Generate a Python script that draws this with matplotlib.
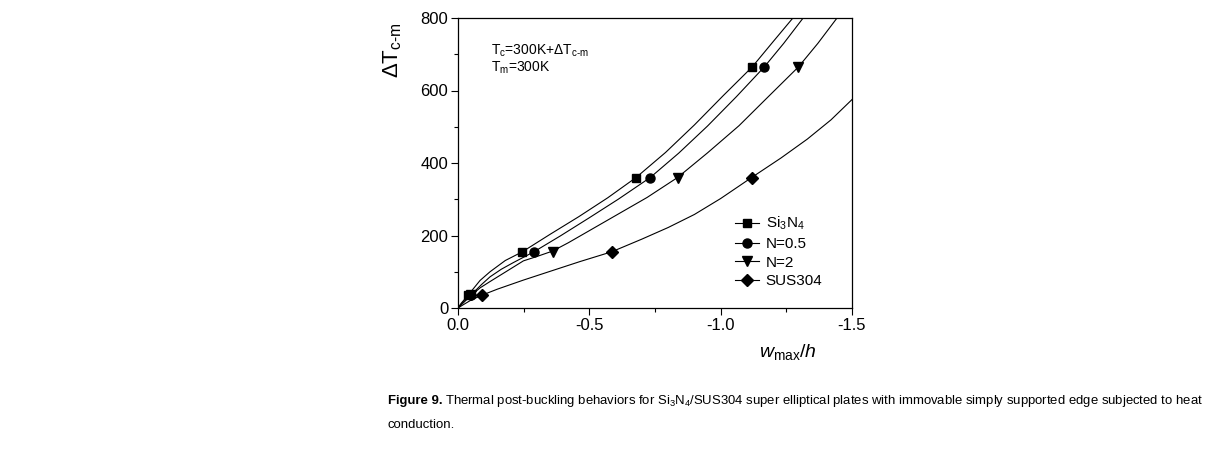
import matplotlib
matplotlib.use("Agg")
import matplotlib.pyplot as plt

plt.rcParams['font.family'] = ['Liberation Sans', 'DejaVu Sans']
plt.rcParams['mathtext.fontset'] = 'custom'
plt.rcParams['mathtext.rm'] = 'Liberation Sans'
plt.rcParams['mathtext.it'] = 'Liberation Sans:italic'
plt.rcParams['mathtext.bf'] = 'Liberation Sans:bold'

# ---- data (w_max/h magnitude, ΔT_c-m) ----
si_curve_w = [0, 0.012, 0.038, 0.084, 0.122, 0.18, 0.245, 0.35, 0.46, 0.57, 0.678, 0.79, 0.9, 1.01, 1.12, 1.2, 1.275]
si_curve_t = [0, 13, 35, 76, 100, 131, 155, 203, 252, 304, 360, 429, 505, 586, 665, 735, 800]
n05_curve_w = [0, 0.015, 0.048, 0.09, 0.122, 0.165, 0.21, 0.289, 0.39, 0.5, 0.61, 0.732, 0.84, 0.95, 1.06, 1.166, 1.24, 1.314]
n05_curve_t = [0, 13, 35, 65, 86, 107, 125, 155, 199, 249, 300, 360, 427, 502, 583, 665, 730, 800]
n2_curve_w = [0, 0.02, 0.05, 0.085, 0.122, 0.18, 0.249, 0.3, 0.36, 0.42, 0.48, 0.6, 0.72, 0.836, 0.95, 1.07, 1.18, 1.296, 1.37, 1.443]
n2_curve_t = [0, 14, 35, 56, 73, 99, 130, 142, 157, 180, 205, 255, 305, 360, 428, 503, 582, 665, 730, 800]
sus_curve_w = [0, 0.02, 0.05, 0.09, 0.15, 0.249, 0.35, 0.464, 0.585, 0.7, 0.8, 0.9, 1.0, 1.118, 1.23, 1.33, 1.42, 1.5]
sus_curve_t = [0, 9, 22, 35, 52, 77, 101, 128, 155, 190, 222, 258, 302, 360, 414, 466, 519, 575]

si_mark_w = [0.038, 0.245, 0.678, 1.12]
si_mark_t = [35, 155, 360, 665]
n05_mark_w = [0.048, 0.289, 0.732, 1.166]
n05_mark_t = [35, 155, 360, 665]
n2_mark_w = [0.05, 0.36, 0.836, 1.296]
n2_mark_t = [35, 155, 360, 665]
sus_mark_w = [0.09, 0.585, 1.118]
sus_mark_t = [35, 155, 360]

labels = ['Si$_3$N$_4$', 'N=0.5', 'N=2', 'SUS304']
markers = ['s', 'o', 'v', 'D']

fig = plt.figure(figsize=(12.22, 4.55), dpi=100)
ax = fig.add_axes([458/1222, 1-308/455, (852-458)/1222, (308-18)/455])

series = [
    (si_curve_w, si_curve_t, si_mark_w, si_mark_t),
    (n05_curve_w, n05_curve_t, n05_mark_w, n05_mark_t),
    (n2_curve_w, n2_curve_t, n2_mark_w, n2_mark_t),
    (sus_curve_w, sus_curve_t, sus_mark_w, sus_mark_t),
]
msizes = [6, 6.5, 7, 6]
for (cw, ct, mw, mt), lab, mk, ms in zip(series, labels, markers, msizes):
    ax.plot([-v for v in cw], ct, color='black', lw=0.8, solid_joinstyle='round')
    ax.plot([-v for v in mw], mt, linestyle='none', marker=mk, color='black', ms=ms, clip_on=False)
    ax.plot([], [], color='black', lw=0.8, marker=mk, ms=ms, label=lab)

ax.set_xlim(0, -1.5)
ax.set_ylim(0, 800)
ax.set_xticks([0, -0.5, -1.0, -1.5])
ax.set_xticklabels(['0.0', '-0.5', '-1.0', '-1.5'])
ax.set_xticks([-0.25, -0.75, -1.25], minor=True)
ax.set_yticks([0, 200, 400, 600, 800])
ax.set_yticks([100, 300, 500, 700], minor=True)
ax.tick_params(axis='both', which='major', direction='out', length=5, width=0.8, labelsize=12, pad=2)
ax.tick_params(axis='both', which='minor', direction='out', length=3, width=0.8)
for s in ax.spines.values():
    s.set_linewidth(0.9)

ax.legend(loc='upper left', bbox_to_anchor=((735-458)/394, (308-215)/290), frameon=False, fontsize=11,
          handlelength=1.6, handletextpad=0.4, labelspacing=0.3, borderaxespad=0, borderpad=0)

ax.text((491-458)/394, (308-55)/290, r'T$_{\rm c}$=300K+$\Delta$T$_{\rm c\text{-}m}$', transform=ax.transAxes,
        fontsize=10, va='baseline')
ax.text((491-458)/394, (308-72)/290, r'T$_{\rm m}$=300K', transform=ax.transAxes, fontsize=10, va='baseline')

fig.text(393/1222, 1-50/455, r'$\Delta$T$_{\rm c\text{-}m}$', rotation=90, fontsize=16, ha='center', va='center')
fig.text(788/1222, 1-352/455, r'$w_{\rm max}/h$', fontsize=14, ha='center', va='center')

# caption, fitted to the reference width
cap_kw = dict(family='Liberation Sans')
cap_body = ('Thermal post-buckling behaviors for Si$_3$N$_4$/SUS304 super elliptical plates with '
            'immovable simply supported edge subjected to heat')
x0, x_end = 388, 1210
size = 12.0
renderer = fig.canvas.get_renderer()
for _ in range(5):
    t1 = fig.text(x0/1222, 1-401/455, 'Figure 9.', fontsize=size, fontweight='bold', va='center', **cap_kw)
    bb1 = t1.get_window_extent(renderer)
    t2 = fig.text((bb1.x1 + size*0.3)/1222, 1-401/455, cap_body, fontsize=size, va='center', **cap_kw)
    bb2 = t2.get_window_extent(renderer)
    total = bb2.x1 - x0
    t1.remove(); t2.remove()
    size = size * (x_end - x0) / total
t1 = fig.text(x0/1222, 1-401/455, 'Figure 9.', fontsize=size, fontweight='bold', va='center', **cap_kw)
bb1 = t1.get_window_extent(renderer)
fig.text((bb1.x1 + size*0.3)/1222, 1-401/455, cap_body, fontsize=size, va='center', **cap_kw)
fig.text(x0/1222, 1-425/455, 'conduction.', fontsize=size, va='center', **cap_kw)

fig.savefig('out.png', dpi=100)
